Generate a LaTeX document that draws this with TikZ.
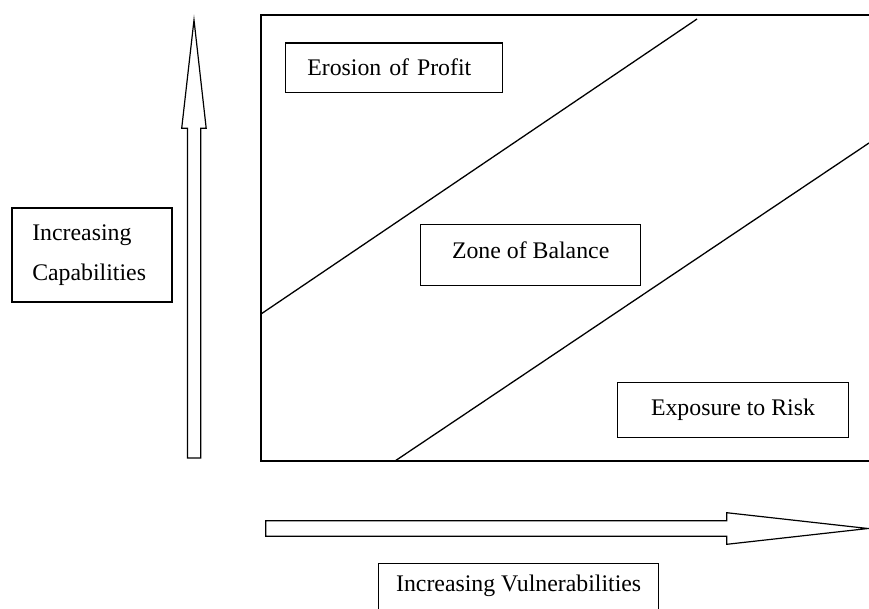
\documentclass[tikz,border=0pt]{standalone}
\usepackage{fontspec}
\setmainfont{Liberation Serif}
\begin{document}
\begin{tikzpicture}[x=1pt, y=-1pt, line width=1.3pt, line join=miter,
  box/.style={draw, rectangle, inner ysep=0pt, anchor=north west,
    font=\fontsize{23.8}{40}\selectfont},
  outline/.style={draw, line width=1.2pt}]
\useasboundingbox (0,0) rectangle (869,608);

% frame of the zone chart (open on the right)
\coordinate (ftr) at (869,15);
\coordinate (ftl) at (261,15);
\coordinate (fbl) at (261,461);
\coordinate (fbr) at (869,461);
\draw (ftr) -- (ftl) -- (fbl) -- (fbr);

% boundaries between the zones
\coordinate (d1a) at (261,314);
\coordinate (d1b) at (697,19);
\coordinate (d2a) at (395,461);
\coordinate (d2b) at (869,143);
\draw (d1a) -- (d1b);
\draw (d2a) -- (d2b);

% zone labels
\node[box, minimum width=217pt, text width=173.6pt, inner xsep=21.7pt,
  align=left, text height=32.7pt, text depth=16.7pt] (erosion) at (285,42.3)
  {Erosion of Profit};
\node[box, minimum width=220pt, text height=34pt, text depth=27pt]
  (balance) at (420,224) {Zone of Balance};
\node[box, minimum width=231.3pt, text height=33.3pt, text depth=21.7pt]
  (risk) at (616.7,381.7) {Exposure to Risk};

% axis labels
\node[draw, rectangle, minimum width=160pt, minimum height=94pt,
  text width=119.4pt, inner xsep=20.3pt, align=left,
  font=\fontsize{23.8}{40}\selectfont] (capab) at (92,255)
  {Increasing\\Capabilities};
\node[box, minimum width=280pt, text height=28pt, text depth=22pt]
  (vulner) at (378,562.7) {Increasing Vulnerabilities};

% vertical block arrow
\draw[outline] (187.5,458) -- (187.5,128.3) -- (181.7,128.3) -- (194,20)
  -- (206.2,128.3) -- (200.7,128.3) -- (200.7,458) -- cycle;

% horizontal block arrow
\draw[outline] (265.7,520.7) -- (726.7,520.7) -- (726.7,512.7) -- (868,528.5)
  -- (726.7,544.3) -- (726.7,536.3) -- (265.7,536.3) -- cycle;
\end{tikzpicture}
\end{document}
